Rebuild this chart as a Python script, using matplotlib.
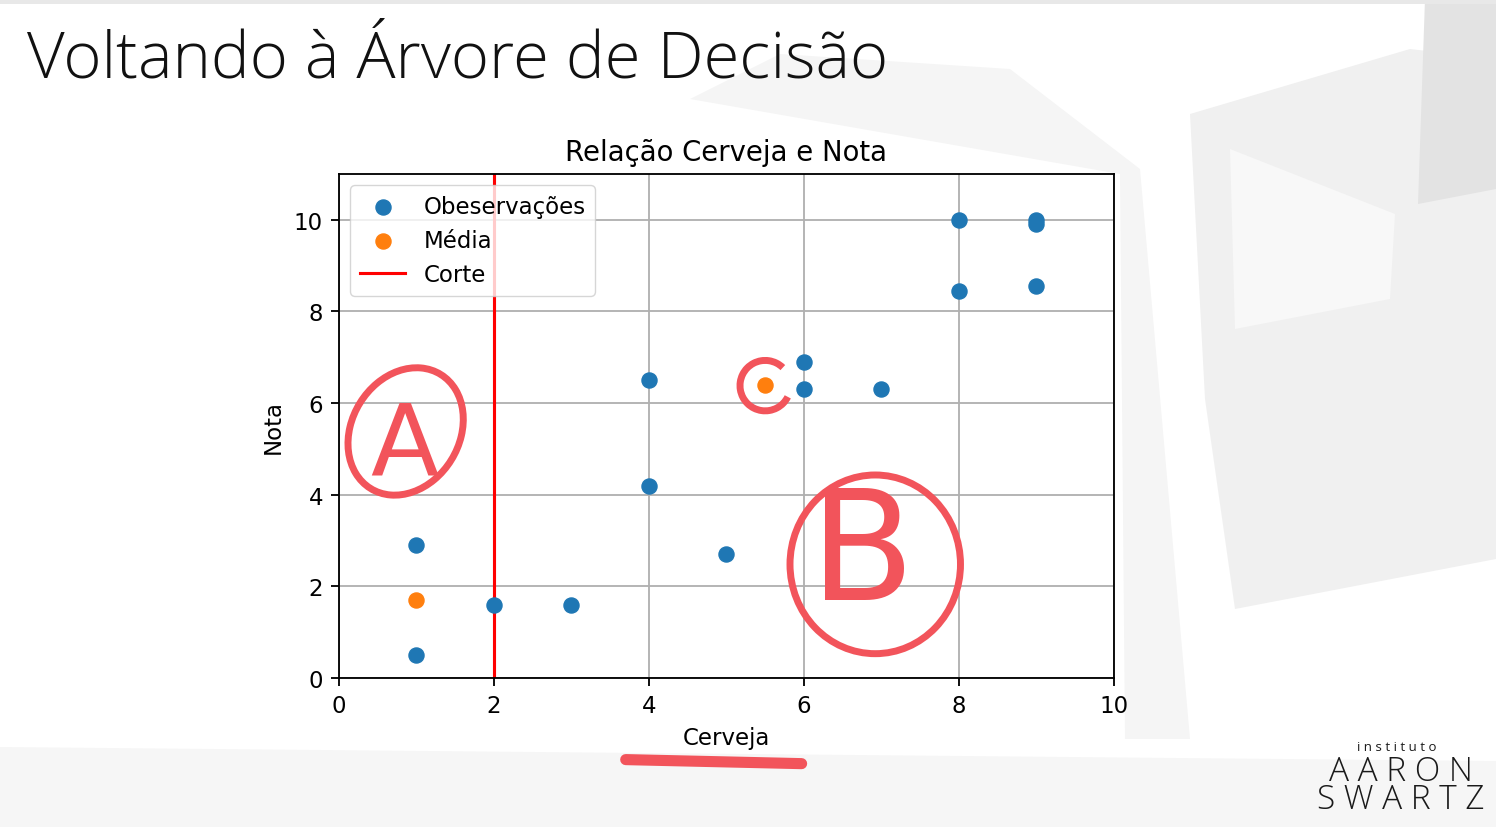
import numpy as np
import matplotlib
matplotlib.use("Agg")
import matplotlib.pyplot as plt
from matplotlib.patches import Ellipse, Arc, Polygon

# -------------------------------------------------------
# Data
# -------------------------------------------------------
cerveja = [1, 1, 2, 3, 4, 4, 5, 6, 6, 7, 8, 8, 9, 9, 9]
nota = [0.5, 2.9, 1.6, 1.6, 6.5, 4.2, 2.7, 6.9, 6.3, 6.3, 10.0, 8.45, 10.0, 9.9, 8.55]

media_x = [1, 5.5]
media_y = [1.7, 6.4]

corte = 2

x_ticks = [0, 2, 4, 6, 8, 10]
y_ticks = [0, 2, 4, 6, 8, 10]

TAB_BLUE = "#1f77b4"
TAB_ORANGE = "#ff7f0e"
HAND_RED = "#f2545b"
K = 1.65  # scale of the screenshot relative to default matplotlib sizes
W, H = 1496, 828

fig = plt.figure(figsize=(14.96, 8.28), dpi=100)
fig.patch.set_facecolor("white")


def px(pts):
    # slide pixel positions -> figure fractions
    return [(x / W, 1 - y / H) for x, y in pts]


# -------------------------------------------------------
# Slide background (faint geometric shapes)
# -------------------------------------------------------
bg = fig.add_axes([0, 0, 1, 1], zorder=-10)
bg.set_xlim(0, 1)
bg.set_ylim(0, 1)
bg.axis("off")
shapes = [
    ([(690, 100), (780, 55), (1010, 70), (1140, 170), (1190, 740), (1125, 740), (1120, 175)], "#f5f5f5"),
    ([(1190, 115), (1410, 50), (1496, 60), (1496, 560), (1235, 610), (1205, 400)], "#f0f0f0"),
    ([(1230, 150), (1395, 215), (1390, 300), (1235, 330)], "#f8f8f8"),
    ([(1425, 0), (1496, 0), (1496, 190), (1418, 205)], "#e3e3e3"),
    ([(0, 748), (1496, 762), (1496, 828), (0, 828)], "#f6f6f6"),
    ([(0, 0), (1496, 0), (1496, 5), (0, 5)], "#e8e8e8"),
]
for pts, col in shapes:
    bg.add_patch(Polygon(px(pts), closed=True, facecolor=col, edgecolor="none"))

fig.text(0.018, 0.907, "Voltando à Árvore de Decisão", fontsize=47,
         family=["Open Sans", "DejaVu Sans"], fontweight="light",
         color="#111111", va="baseline")

# -------------------------------------------------------
# The chart
# -------------------------------------------------------
ax = fig.add_axes([0.2266, 0.18, 0.518, 0.6087])
ax.scatter(cerveja, nota, s=36 * K * K * 1.2, color=TAB_BLUE, label="Obeservações", zorder=3)
ax.scatter(media_x, media_y, s=36 * K * K * 1.2, color=TAB_ORANGE, label="Média", zorder=3)
ax.axvline(corte, color="red", lw=1.5 * K * 0.9, label="Corte", zorder=2)

ax.set_xlim(0, 10)
ax.set_ylim(0, 11)
ax.set_xticks(x_ticks)
ax.set_yticks(y_ticks)
ax.grid(True, color="#b0b0b0", lw=0.8 * K)
ax.set_axisbelow(True)
for sp in ax.spines.values():
    sp.set_linewidth(0.8 * K)
ax.tick_params(labelsize=10 * K, width=0.8 * K, length=3.5 * K, pad=3.5 * K)
ax.set_title("Relação Cerveja e Nota", fontsize=12 * K, pad=6 * K)
ax.set_xlabel("Cerveja", fontsize=10 * K, labelpad=4 * K)
ax.set_ylabel("Nota", fontsize=10 * K, labelpad=4 * K)
ax.legend(loc="upper left", fontsize=10 * K, borderpad=0.4, labelspacing=0.5,
          handlelength=2.0, framealpha=0.8)

# -------------------------------------------------------
# Hand-drawn marks on top of the chart
# -------------------------------------------------------
ax.add_patch(Ellipse((0.86, 5.38), 1.45, 2.8, angle=-8, fill=False, ec=HAND_RED, lw=5,
                     clip_on=False, zorder=6))
ax.add_patch(Ellipse((6.92, 2.48), 2.2, 3.9, fill=False, ec=HAND_RED, lw=5,
                     clip_on=False, zorder=6))
ax.add_patch(Arc((5.5, 6.38), 0.65, 1.1, theta1=60, theta2=320, ec=HAND_RED, lw=5,
                 clip_on=False, zorder=6))
hand = dict(color=HAND_RED, ha="center", va="center", zorder=6,
            family=["Liberation Sans Narrow", "DejaVu Sans"])
ax.text(0.85, 5.05, "A", fontsize=72, **hand)
ax.text(6.75, 2.65, "B", fontsize=110, **hand)
ax.plot([0.37, 0.597], [-0.162, -0.17], transform=ax.transAxes, color=HAND_RED,
        lw=8, solid_capstyle="round", clip_on=False, zorder=6)

# -------------------------------------------------------
# Logo
# -------------------------------------------------------
logo = dict(ha="center", color="#1a1a1a", family=["Open Sans", "DejaVu Sans"])
fig.text(0.9335, 0.0935, "i n s t i t u t o", fontsize=9.5, va="baseline", **logo)
fig.text(0.9365, 0.087, "A A R O N\nS W A R T Z", fontsize=24, fontweight="light",
         va="top", linespacing=0.76, multialignment="center", **logo)

fig.savefig("out.png", dpi=100)
